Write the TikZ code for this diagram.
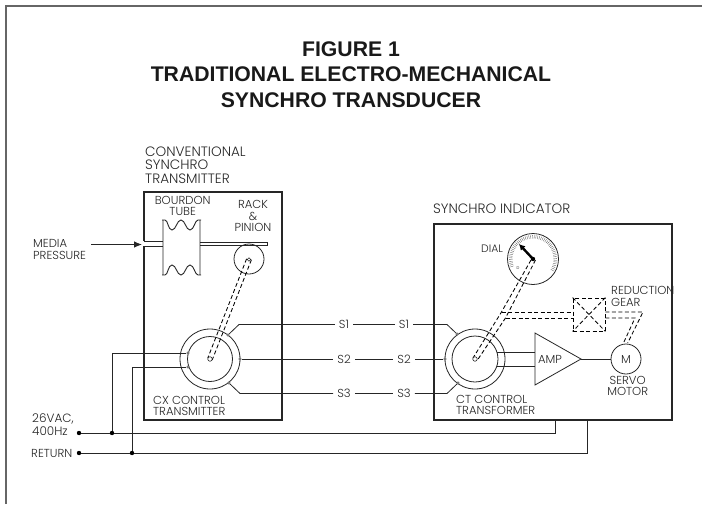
\documentclass[tikz,border=0pt]{standalone}
\usepackage{fontspec}
\setmainfont{Poppins Light}
\newfontfamily\titlefont{Liberation Sans}
\usetikzlibrary{arrows.meta,calc}
\tikzset{
  lab/.style={font=\fontsize{11.6}{11.3}\selectfont, align=center, inner sep=0pt, text=black!85},
  labl/.style={lab, align=left},
  biglab/.style={labl, font=\fontsize{13.6}{13.3}\selectfont},
  thick box/.style={draw=black!85, line width=1.6pt},
  wire/.style={draw=black!85, line width=0.8pt},
  mech/.style={draw=black!85, line width=0.9pt},
  dashw/.style={draw=black, line width=0.85pt, dash pattern=on 4pt off 2.5pt},
  dot/.style={circle, fill=black, inner sep=0pt, minimum size=4.4pt},
  term/.style={circle, draw=black!70, fill=white, line width=0.5pt, inner sep=0pt, minimum size=2.6pt},
  ring/.style={circle, draw=black!85, line width=0.8pt, inner sep=0pt},
  hub/.style={circle, draw=black!85, fill=white, line width=0.6pt, inner sep=0pt},
}
\begin{document}
\begin{tikzpicture}[x=1pt,y=-1pt]
\useasboundingbox (0,0) rectangle (702,504);
\draw[line width=2pt,black!60] (5.5,504) -- (5.5,5.7) -- (702,5.7);
% title
\node[font=\titlefont\bfseries\fontsize{21.2}{25.4}\selectfont, align=center, inner sep=0pt, text=black!90] (title) at (351,74.5)
 {FIGURE 1\\TRADITIONAL ELECTRO-MECHANICAL\\SYNCHRO TRANSDUCER};
% left box
\node[biglab, anchor=west] (cst) at (145,165) {CONVENTIONAL\\SYNCHRO\\TRANSMITTER};
\draw[thick box] (144,241) -- (144,192) -- (282,192) -- (282,420) -- (144,420) -- (144,246);
% bourdon
\draw[mech] (144,241) -- (163,241) (144,246) -- (163,246);
\draw[mech] (200,242) -- (267,242) -- (267,245) -- (200,245);
\draw[mech] (163,220) -- (163,275) (200,220) -- (200,275)
 (162,220) -- (165,220) .. controls (168,220) and (168,230) .. (172,230) .. controls (176,230) and (177,220) .. (181,220)
 .. controls (185,220) and (186,230) .. (190,230) .. controls (194,230) and (195,220) .. (198,220) -- (201,220)
 (162,275) -- (165,275) .. controls (168,275) and (168,265) .. (172,265) .. controls (176,265) and (177,275) .. (181,275)
 .. controls (185,275) and (186,265) .. (190,265) .. controls (194,265) and (195,275) .. (198,275) -- (201,275);
\node[lab] (bt) at (182.7,205.7) {BOURDON\\TUBE};
\node[lab] (rp) at (253,216) {RACK\\\&\\PINION};
\node[labl, anchor=west] (mp) at (33,249.5) {MEDIA\\PRESSURE};
\coordinate (mpa) at (91,244.5);
\coordinate (mpb) at (142,244.5);
\draw[mech,-{Latex[length=8pt,width=6.5pt]}] (mpa) -- (mpb);
% pinion + CX
\node[ring,minimum size=30pt] (pin) at (249,259) {};
\node[ring,minimum size=60pt] (cxo) at (210,359) {};
\node[ring,minimum size=45pt] (cxi) at (210,359) {};
\draw[dashw] (246.6,258.8) -- (207.8,358) (251.4,259.8) -- (212.2,360);
\node[hub,minimum size=4.5pt] (cxc) at (210,359) {};
\node[hub,minimum size=3.5pt] (pinc) at (249,259.5) {};
\node[labl, anchor=west] (cxl) at (153,405.8) {CX CONTROL\\TRANSMITTER};
% terminals CX
\node[term] (t1) at (188,353) {};
\node[term] (t2) at (188,367) {};
\node[term] (t3) at (228,335) {};
\node[term] (t4) at (240,359) {};
\node[term] (t5) at (229,383) {};
% S labels
\node[lab] (s1a) at (344,324.5) {S1};
\node[lab] (s2a) at (344,359) {S2};
\node[lab] (s3a) at (344,393.5) {S3};
\node[lab] (s1b) at (404,324.5) {S1};
\node[lab] (s2b) at (404,359) {S2};
\node[lab] (s3b) at (404,393.5) {S3};
\draw[wire] (t3) -- (239,324.5) -- ($(s1a.west)+(-4,0)$);
\draw[wire] (t4) -- ($(s2a.west)+(-4,0)$);
\draw[wire] (t5) -- (240,393.5) -- ($(s3a.west)+(-4,0)$);
\draw[wire] ($(s1a.east)+(4,0)$) -- ($(s1b.west)+(-4,0)$);
\draw[wire] ($(s2a.east)+(4,0)$) -- ($(s2b.west)+(-4,0)$);
\draw[wire] ($(s3a.east)+(4,0)$) -- ($(s3b.west)+(-4,0)$);
% right box
\node[biglab, anchor=west] (si) at (433,209) {SYNCHRO INDICATOR};
\draw[thick box] (434,224) rectangle (672,420);
% CT
\node[ring,minimum size=60pt] (cto) at (475,359) {};
\node[ring,minimum size=46pt] (cti) at (475,359) {};
\node[term] (r1) at (457,334) {};
\node[term] (r2) at (445,359) {};
\node[term] (r3) at (458,383) {};
\draw[wire] ($(s1b.east)+(4,0)$) -- (447,324.5) -- (r1);
\draw[wire] ($(s2b.east)+(4,0)$) -- (r2);
\draw[wire] ($(s3b.east)+(4,0)$) -- (447,393.5) -- (r3);
\node[labl, anchor=west] (ctl) at (456,404.8) {CT CONTROL\\TRANSFORMER};
% dial
\node[ring,minimum size=51pt] (dial) at (533,259) {};
\foreach \a in {-30,-25.5,...,200} {
  \draw[black!70,line width=0.3pt] ($(dial.center)+({20.5*cos(\a)},{-20.5*sin(\a)})$) -- ($(dial.center)+({24*cos(\a)},{-24*sin(\a)})$);
}
\node[lab,font=\fontsize{10.8}{11}\selectfont] (diall) at (492,249) {DIAL};
\node[font=\fontsize{4}{4}\selectfont, inner sep=0pt] (dmark) at (518,268) {D};
\coordinate (ntip) at (519,244);
\draw[line width=2.4pt,black,-{Latex[length=6pt,width=6.5pt]}] (dial.center) -- (ntip);
\node[dot] (dc) at (dial.center) {};
% dashed shafts
\coordinate (ja) at (501.5,312);
\coordinate (jb) at (505.5,318);
\draw[dashw] (531,260) -- (ja) -- (473,358);
\draw[dashw] (535.5,260) -- (jb) -- (477.5,360);
\node[draw=black,line width=0.85pt,dash pattern=on 4pt off 2.5pt,minimum width=32pt,minimum height=33pt,inner sep=0pt] (gear) at (589,314.5) {};
\draw[dashw] (gear.north west) -- (gear.south east) (gear.north east) -- (gear.south west);
\draw[dashw] (ja) -- (gear.west |- ja) (jb) -- (gear.west |- jb);
\coordinate (ka) at (643,312);
\coordinate (kb) at (635,318);
\draw[dashw] (gear.east |- ka) -- (ka) -- (627.7,343);
\draw[dashw] (gear.east |- kb) -- (kb) -- (623,344);
\node[hub,minimum size=4.5pt] (ctc) at (475,359) {};
\node[labl, anchor=west] (rg) at (611,296.5) {REDUCTION\\GEAR};
% amp
\coordinate (a1) at (535,333);
\coordinate (a2) at (535,385);
\coordinate (a3) at (581,359);
\draw[line width=0.8pt,black!85] (a1) -- (a3) -- (a2) -- cycle;
\node[lab] (ampl) at (550,359) {AMP};
\draw[wire] (497,352.7) -- (535,352.7) (497,366.7) -- (535,366.7);
\node[ring,minimum size=30pt,font=\fontsize{11.6}{12}\selectfont,text=black!85] (motor) at (626,359) {M};
\draw[wire] (a3) -- (motor);
\node[lab] (sm) at (627.7,386.2) {SERVO\\MOTOR};
% supply
\node[labl, anchor=west, font=\fontsize{12}{12.5}\selectfont] (v26) at (32,424.5) {26VAC,\\400Hz};
\node[lab, anchor=west] (ret) at (31,453) {RETURN};
\node[dot] (d1) at (79,433) {};
\node[dot] (d2) at (79,453) {};
\node[dot] (d3) at (112,433) {};
\node[dot] (d4) at (132,453) {};
\coordinate (e1) at (555,420);
\coordinate (e2) at (587,420);
\draw[wire] (d1) -- (d3) -- (e1 |- d1) -- (e1);
\draw[wire] (d2) -- (d4) -- (e2 |- d2) -- (e2);
\draw[wire] (t1) -- (112,353) -- (d3);
\draw[wire] (t2) -- (132,367) -- (d4);
\end{tikzpicture}
\end{document}
